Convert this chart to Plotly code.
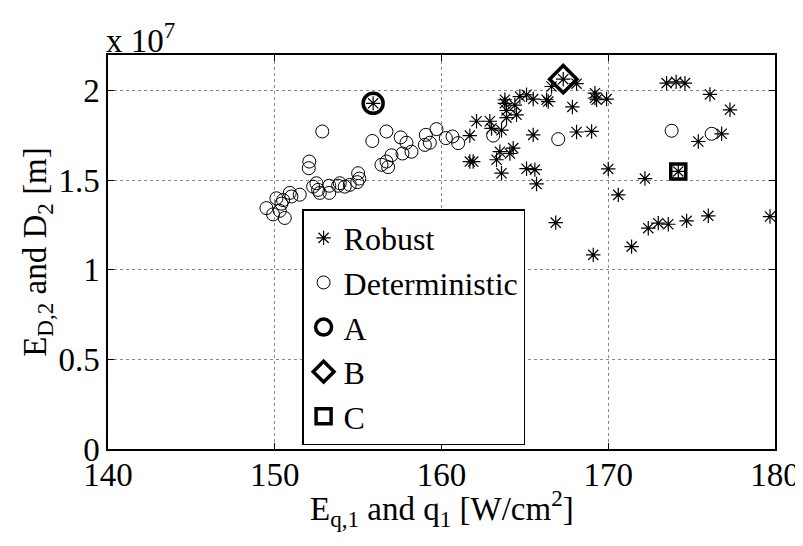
import plotly.graph_objects as go

# Robust solutions: x = q1 [W/cm^2], y = D2 [m] in units of 1e7
robust_x = [155.9, 161.7, 162.1, 161.7, 161.9, 162.9, 163.0, 163.6, 163.5, 164.1, 164.3,
            163.3, 163.6, 163.8, 163.9, 163.9, 164.5, 164.4, 164.7, 165.1, 165.5, 166.3,
            166.4, 163.8, 165.5, 165.1, 165.6, 165.7, 166.6, 167.3, 166.85, 168.1, 169.2,
            169.2, 169.3, 169.9, 167.85, 168.1, 169.0, 170.0, 176.8, 175.4, 177.3, 176.1,
            173.5, 174.07, 174.6, 174.2, 172.2, 170.6, 169.1, 171.4, 172.4, 173.0, 173.6,
            174.7, 176.0, 179.7]
robust_y = [1.93, 1.75, 1.83, 1.605, 1.605, 1.83, 1.79, 1.78, 1.66, 1.65, 1.68,
            1.615, 1.54, 1.93, 1.89, 1.85, 1.866, 1.92, 1.968, 1.978, 1.954, 1.95,
            1.94, 1.95, 1.754, 1.565, 1.56, 1.48, 2.024, 2.065, 1.264, 2.04, 1.987,
            1.96, 1.95, 1.954, 1.91, 1.77, 1.773, 1.564, 1.76, 1.717, 1.894, 1.98,
            2.043, 2.05, 2.043, 1.55, 1.51, 1.419, 1.084, 1.13, 1.233, 1.261, 1.255,
            1.274, 1.302, 1.298]

# Deterministic solutions
det_x = [152.85, 152.07, 152.04, 155.85, 156.7, 157.55, 157.9, 158.2, 157.66, 157.0,
         156.7, 156.4, 156.8, 159.06, 159.0, 159.7, 159.3, 155.0, 155.07, 154.95,
         154.5, 154.2, 153.9, 153.8, 153.27, 153.27, 152.5, 152.6, 152.3, 152.7,
         150.9, 151.5, 151.0, 150.1, 150.4, 150.5, 149.5, 149.9, 150.6, 150.3,
         160.26, 160.66, 161.0, 163.1, 167.0, 173.8, 176.2]
det_y = [1.773, 1.605, 1.568, 1.72, 1.773, 1.74, 1.71, 1.66, 1.65, 1.64,
         1.605, 1.587, 1.574, 1.754, 1.698, 1.786, 1.71, 1.54, 1.51, 1.49,
         1.475, 1.465, 1.484, 1.47, 1.47, 1.43, 1.484, 1.447, 1.465, 1.43,
         1.43, 1.42, 1.41, 1.40, 1.37, 1.39, 1.345, 1.31, 1.29, 1.33,
         1.736, 1.745, 1.708, 1.75, 1.73, 1.777, 1.76]

# Selected designs
A_x, A_y = [155.9], [1.93]
B_x, B_y = [167.3], [2.065]
C_x, C_y = [174.2], [1.55]

x_ticks = [140, 150, 160, 170, 180]
y_ticks = [0, 0.5, 1, 1.5, 2]
y_tick_text = ["0", "0.5", "1", "1.5", "2"]

FONT = "Liberation Serif"

fig = go.Figure()
fig.add_trace(go.Scatter(x=robust_x, y=robust_y, mode="markers", name="Robust",
                         marker=dict(symbol="asterisk-open", size=12, color="black",
                                     line=dict(color="#222", width=1.2))))
fig.add_trace(go.Scatter(x=det_x, y=det_y, mode="markers", name="Deterministic",
                         marker=dict(symbol="circle-open", size=13, color="black",
                                     line=dict(color="black", width=1))))
fig.add_trace(go.Scatter(x=A_x, y=A_y, mode="markers", name="A",
                         marker=dict(symbol="circle-open", size=20, color="black",
                                     line=dict(color="black", width=3.5))))
fig.add_trace(go.Scatter(x=B_x, y=B_y, mode="markers", name="B",
                         marker=dict(symbol="diamond-open", size=21, color="black",
                                     line=dict(color="black", width=3.5))))
fig.add_trace(go.Scatter(x=C_x, y=C_y, mode="markers", name="C",
                         marker=dict(symbol="square-open", size=15, color="black",
                                     line=dict(color="black", width=3.5))))

axis_common = dict(showline=True, linecolor="black", linewidth=1.5, mirror="ticks",
                   ticks="inside", ticklen=6, tickcolor="black", automargin=False,
                   showgrid=True, gridcolor="#888", griddash="dot", gridwidth=1,
                   zeroline=False, tickfont=dict(family=FONT, size=33, color="black"))

fig.update_xaxes(range=[140, 180], tickvals=x_ticks, ticklabelstandoff=-4,
                 **axis_common)
fig.update_yaxes(range=[0, 2.2], tickvals=y_ticks, ticktext=y_tick_text,
                 title=dict(text="E<sub>D,2</sub> and D<sub>2</sub> [m]",
                            font=dict(family=FONT, size=33, color="black"), standoff=2),
                 **axis_common)

# x-axis title (placed as annotation to sit close to the tick labels, as in the original)
fig.add_annotation(text="E<sub>q,1</sub> and q<sub>1</sub> [W/cm<sup>2</sup>]",
                   xref="paper", yref="paper", x=0.5, y=-0.152,
                   xanchor="center", yanchor="middle", showarrow=False,
                   font=dict(family=FONT, size=33, color="black"))

fig.add_annotation(text="x 10<sup>7</sup>", xref="paper", yref="paper", x=0, y=1,
                   xanchor="left", yanchor="bottom", showarrow=False,
                   font=dict(family=FONT, size=33, color="black"), xshift=-4, yshift=-6)

fig.update_layout(
    width=795, height=538,
    margin=dict(l=100, r=28, t=47, b=97),
    paper_bgcolor="white", plot_bgcolor="white",
    showlegend=True,
    legend=dict(x=0.291, y=0.609, xanchor="left", yanchor="top",
                bgcolor="white", bordercolor="black", borderwidth=1.5,
                font=dict(family=FONT, size=32, color="black"),
                tracegroupgap=0),
)

fig.write_html("out.html")
